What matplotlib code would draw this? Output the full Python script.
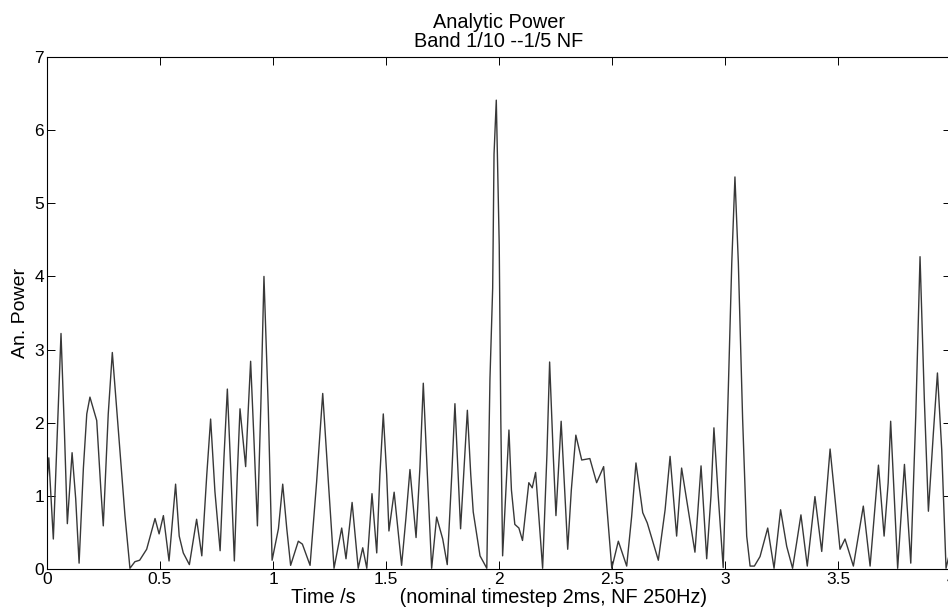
import matplotlib
matplotlib.use("Agg")
import matplotlib.pyplot as plt

# Time (s) and analytic power values (extrema, flanks, shoulders)
time_s = [
    0.000, 0.008, 0.028, 0.043, 0.062, 0.077, 0.090, 0.111, 0.127, 0.142,
    0.161, 0.176, 0.190, 0.220, 0.238, 0.249, 0.271, 0.289, 0.316, 0.345,
    0.367, 0.389, 0.410, 0.441, 0.478, 0.496, 0.515, 0.540, 0.556, 0.569,
    0.585, 0.603, 0.630, 0.662, 0.685, 0.707, 0.724, 0.743, 0.766, 0.783,
    0.798, 0.814, 0.829, 0.842, 0.854, 0.879, 0.891, 0.901, 0.916, 0.931,
    0.946, 0.960, 0.979, 0.996, 1.024, 1.043, 1.061, 1.078, 1.112, 1.130,
    1.164, 1.193, 1.220, 1.245, 1.270, 1.304, 1.323, 1.350, 1.377, 1.397,
    1.415, 1.438, 1.459, 1.473, 1.488, 1.503, 1.513, 1.536, 1.569, 1.588,
    1.606, 1.633, 1.650, 1.665, 1.683, 1.702, 1.724, 1.751, 1.771, 1.791,
    1.805, 1.830, 1.860, 1.875, 1.886, 1.916, 1.946, 1.960, 1.972, 1.978,
    1.988, 2.001, 2.008, 2.016, 2.044, 2.055, 2.070, 2.088, 2.104, 2.132,
    2.147, 2.162, 2.193, 2.212, 2.224, 2.240, 2.252, 2.275, 2.304, 2.320,
    2.340, 2.366, 2.402, 2.432, 2.463, 2.499, 2.528, 2.565, 2.587, 2.606,
    2.636, 2.656, 2.705, 2.735, 2.757, 2.786, 2.808, 2.867, 2.894, 2.919,
    2.938, 2.951, 2.970, 2.992, 3.015, 3.030, 3.044, 3.059, 3.078, 3.096,
    3.111, 3.130, 3.155, 3.189, 3.217, 3.246, 3.273, 3.299, 3.317, 3.336,
    3.364, 3.398, 3.428, 3.465, 3.509, 3.531, 3.568, 3.612, 3.642, 3.679,
    3.704, 3.722, 3.733, 3.764, 3.794, 3.822, 3.844, 3.863, 3.882, 3.900,
    3.922, 3.940, 3.959, 3.978, 4.000,
]
power = [
    1.20, 1.52, 0.41, 1.66, 3.22, 1.89, 0.62, 1.59, 0.96, 0.08,
    1.38, 2.12, 2.35, 2.03, 1.10, 0.59, 2.12, 2.96, 1.89, 0.73,
    0.01, 0.10, 0.12, 0.27, 0.69, 0.48, 0.73, 0.11, 0.69, 1.16,
    0.45, 0.22, 0.06, 0.68, 0.18, 1.29, 2.05, 1.06, 0.25, 1.52,
    2.46, 1.29, 0.11, 1.29, 2.19, 1.40, 2.21, 2.84, 1.75, 0.59,
    2.21, 4.00, 2.21, 0.12, 0.55, 1.16, 0.55, 0.05, 0.38, 0.34,
    0.05, 1.19, 2.40, 1.19, 0.01, 0.56, 0.14, 0.91, 0.01, 0.29,
    0.01, 1.03, 0.22, 1.29, 2.12, 1.29, 0.52, 1.05, 0.05, 0.69,
    1.36, 0.43, 1.38, 2.54, 1.29, 0.01, 0.71, 0.41, 0.06, 1.29,
    2.26, 0.55, 2.17, 1.29, 0.78, 0.18, 0.01, 2.60, 3.84, 5.67,
    6.41, 4.43, 2.04, 0.18, 1.90, 1.08, 0.61, 0.56, 0.39, 1.18,
    1.11, 1.32, 0.01, 1.56, 2.83, 1.56, 0.73, 2.02, 0.27, 1.08,
    1.83, 1.49, 1.51, 1.18, 1.40, 0.01, 0.38, 0.04, 0.72, 1.45,
    0.77, 0.63, 0.12, 0.81, 1.54, 0.45, 1.38, 0.23, 1.41, 0.14,
    1.00, 1.93, 1.00, 0.02, 2.50, 4.19, 5.36, 4.19, 2.05, 0.45,
    0.04, 0.04, 0.17, 0.56, 0.01, 0.81, 0.31, 0.01, 0.36, 0.74,
    0.04, 0.99, 0.24, 1.64, 0.27, 0.41, 0.04, 0.86, 0.04, 1.42,
    0.45, 1.18, 2.02, 0.01, 1.43, 0.08, 2.09, 4.27, 2.32, 0.79,
    1.86, 2.68, 1.63, 0.01, 0.30,
]

x_ticks = [0, 0.5, 1, 1.5, 2, 2.5, 3, 3.5, 4]
x_tick_labels = ["0", "0.5", "1", "1.5", "2", "2.5", "3", "3.5", "4"]
y_ticks = [0, 1, 2, 3, 4, 5, 6, 7]

plt.rcParams['font.family'] = ['Liberation Sans', 'DejaVu Sans']

fig = plt.figure(figsize=(9.48, 6.12), dpi=100)
ax = fig.add_axes([47/948, 43/612, 904/948, 512/612])
ax.plot(time_s, power, color='#383838', lw=1.0)
ax.set_xlim(0, 4)
ax.set_ylim(0, 7)
ax.set_xticks(x_ticks)
ax.set_xticklabels(x_tick_labels)
ax.set_yticks(y_ticks)
ax.tick_params(direction='in', length=6, width=0.7, top=True, right=True,
               labelsize=12.5, pad=2)
for s in ax.spines.values():
    s.set_linewidth(0.8)
ax.set_title("Analytic Power\nBand 1/10 --1/5 NF", fontsize=14.3, pad=7, linespacing=1.05)
ax.set_xlabel("Time /s        (nominal timestep 2ms, NF 250Hz)", fontsize=14.3, labelpad=1)
ax.set_ylabel("An. Power", fontsize=14, labelpad=4)
fig.savefig("out.png", dpi=100)
